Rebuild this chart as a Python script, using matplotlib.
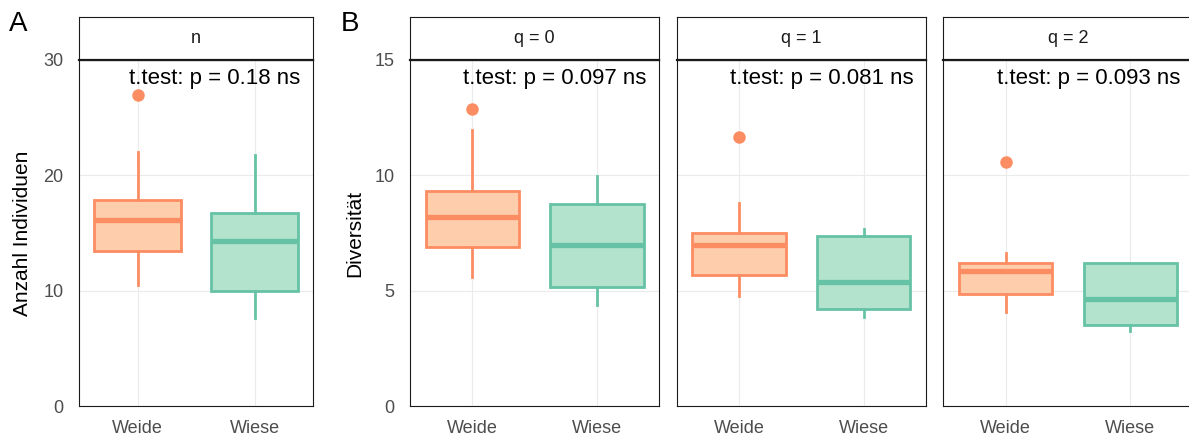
import matplotlib.pyplot as plt

plt.rcParams['font.family'] = ['Liberation Sans', 'DejaVu Sans']

groups = ['Weide', 'Wiese']
panel_titles = ['n', 'q = 0', 'q = 1', 'q = 2']
p_values = ['0.18', '0.097', '0.081', '0.093']

# five-number summaries: whisker low, Q1, median, Q3, whisker high
n_weide = [10.5, 13.4, 16.1, 17.9, 22.0]
n_wiese = [7.6, 10.0, 14.3, 16.7, 21.8]
n_weide_out = [27.0]
n_wiese_out = []

q0_weide = [5.6, 6.88, 8.18, 9.32, 11.98]
q0_wiese = [4.40, 5.17, 6.97, 8.77, 9.97]
q0_weide_out = [12.89]
q0_wiese_out = []

q1_weide = [4.75, 5.70, 6.97, 7.52, 8.80]
q1_wiese = [3.84, 4.21, 5.38, 7.36, 7.69]
q1_weide_out = [11.66]
q1_wiese_out = []

q2_weide = [4.07, 4.85, 5.86, 6.18, 6.64]
q2_wiese = [3.23, 3.51, 4.66, 6.18, 6.18]
q2_weide_out = [10.59]
q2_wiese_out = []

line_cols = ['#FC8D62', '#66C2A5']
fill_cols = ['#FDCDAC', '#B3E2CD']

W, H = 1189, 436
fig = plt.figure(figsize=(W / 100, H / 100), dpi=100)


def stats(five, out):
    lo, q1, med, q3, hi = five
    return dict(whislo=lo, q1=q1, med=med, q3=q3, whishi=hi, fliers=out)


def panel(x0, x1, title, pval, data, ylim, yticks, show_y):
    top, bottom = 60, 406
    ax = fig.add_axes([x0 / W, (H - bottom) / H, (x1 - x0) / W, (bottom - top) / H])
    for i, (five, out) in enumerate(data):
        ax.bxp([stats(five, out)], positions=[i + 1], widths=0.75, patch_artist=True,
               showcaps=False,
               boxprops=dict(facecolor=fill_cols[i], edgecolor=line_cols[i], linewidth=2.0),
               medianprops=dict(color=line_cols[i], linewidth=3.8, solid_capstyle='butt'),
               whiskerprops=dict(color=line_cols[i], linewidth=2.0),
               flierprops=dict(marker='o', markerfacecolor=line_cols[i],
                               markeredgecolor='none', markersize=9),
               zorder=3)
    ax.set_xlim(0.5, 2.5)
    ax.set_ylim(*ylim)
    ax.set_xticks([1, 2])
    ax.set_xticklabels(groups)
    ax.set_yticks(yticks)
    if not show_y:
        ax.set_yticklabels([])
    ax.tick_params(length=0, labelsize=13, labelcolor='#4D4D4D')
    ax.tick_params(axis='y', pad=11)
    ax.tick_params(axis='x', pad=10)
    ax.grid(True, color='#EBEBEB', linewidth=0.8, zorder=0)
    ax.set_axisbelow(True)
    for s in ax.spines.values():
        s.set_color('#1A1A1A')
        s.set_linewidth(0.8)
    ax.annotate('t.test: p = ' + pval + ' ns', xy=(1, 0.947), xycoords='axes fraction',
                xytext=(-9, 0), textcoords='offset points', ha='right', va='center',
                fontsize=16, color='black', zorder=5)

    # facet strip
    st = fig.add_axes([x0 / W, (H - top) / H, (x1 - x0) / W, 43 / H])
    st.set_xticks([])
    st.set_yticks([])
    for s in st.spines.values():
        s.set_color('#1A1A1A')
        s.set_linewidth(0.8)
    st.spines['bottom'].set_linewidth(1.6)
    st.text(0.5, 0.5, title, ha='center', va='center', fontsize=13, color='#1A1A1A')
    return ax


panel(79, 313, panel_titles[0], p_values[0],
      [(n_weide, n_weide_out), (n_wiese, n_wiese_out)], (0, 30), [0, 10, 20, 30], True)
panel(410, 659.3, panel_titles[1], p_values[1],
      [(q0_weide, q0_weide_out), (q0_wiese, q0_wiese_out)], (0, 15), [0, 5, 10, 15], True)
panel(676.7, 926, panel_titles[2], p_values[2],
      [(q1_weide, q1_weide_out), (q1_wiese, q1_wiese_out)], (0, 15), [0, 5, 10, 15], False)
panel(943.3, 1192.6, panel_titles[3], p_values[3],
      [(q2_weide, q2_weide_out), (q2_wiese, q2_wiese_out)], (0, 15), [0, 5, 10, 15], False)

fig.text(23 / W, 1 - 233 / H, 'Anzahl Individuen', rotation=90, ha='center', va='center',
         fontsize=15, color='black')
fig.text(355 / W, 1 - 233 / H, 'Diversität', rotation=90, ha='center', va='center',
         fontsize=15, color='black')
fig.text(18.5 / W, 1 - 24 / H, 'A', ha='center', va='center', fontsize=20)
fig.text(350 / W, 1 - 24 / H, 'B', ha='center', va='center', fontsize=20)

fig.savefig('out.png', dpi=100)
